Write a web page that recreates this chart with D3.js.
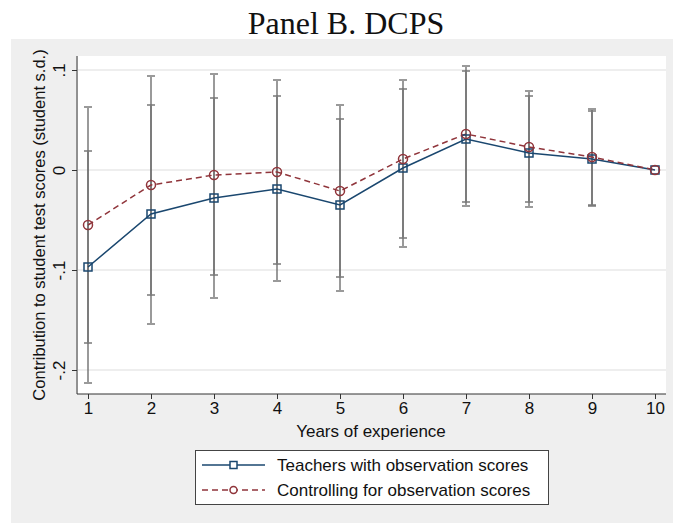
<!DOCTYPE html>
<html>
<head>
<meta charset="utf-8">
<script src="https://cdn.jsdelivr.net/npm/d3@7"></script>
<style>
  body { margin: 0; background: #fff; }
  text { font-family: "Liberation Sans", Arial, Helvetica, sans-serif; fill: #111; }
</style>
</head>
<body>
<div class="chart"></div>
<script>
// years of experience
const years = [1, 2, 3, 4, 5, 6, 7, 8, 9, 10];

// Teachers with observation scores
const obsEst = [-0.097, -0.044, -0.028, -0.019, -0.035, 0.002, 0.031, 0.017, 0.011, 0];
const obsLo  = [-0.213, -0.154, -0.128, -0.111, -0.121, -0.077, -0.036, -0.037, -0.036, null];
const obsHi  = [0.019, 0.065, 0.072, 0.074, 0.051, 0.081, 0.099, 0.074, 0.059, null];

// Controlling for observation scores
const ctrlEst = [-0.055, -0.015, -0.005, -0.002, -0.021, 0.011, 0.036, 0.023, 0.013, 0];
const ctrlLo  = [-0.173, -0.125, -0.105, -0.094, -0.107, -0.068, -0.032, -0.032, -0.035, null];
const ctrlHi  = [0.063, 0.094, 0.096, 0.090, 0.065, 0.090, 0.104, 0.079, 0.061, null];

const yTicks = [-0.2, -0.1, 0, 0.1];
const yTickLabels = ["-.2", "-.1", "0", ".1"];

const W = 673, H = 523;
const plot = { left: 78, right: 666, top: 56, bottom: 394 };
const blue = "#1a476f", red = "#90353b";
const fs = "17px";

const svg = d3.select(".chart").append("svg")
  .attr("width", W).attr("height", H);

// background panels
svg.append("rect").attr("x", 11).attr("y", 39).attr("width", W - 11).attr("height", H - 39)
  .attr("fill", "#efefef");
svg.append("rect").attr("x", plot.left).attr("y", plot.top)
  .attr("width", plot.right - plot.left).attr("height", plot.bottom - plot.top)
  .attr("fill", "#fff");

// title
svg.append("text").attr("x", 346).attr("y", 34).attr("text-anchor", "middle")
  .style("font-family", "'Liberation Serif', 'Times New Roman', serif")
  .style("font-size", "32px").text("Panel B. DCPS");

const x = d3.scaleLinear().domain([1, 10]).range([88, 655]);
const y = d3.scaleLinear().domain([-0.2, 0.1]).range([370, 70]);

// gridlines
svg.append("g").selectAll("line").data(yTicks).join("line")
  .attr("x1", plot.left).attr("x2", plot.right)
  .attr("y1", d => y(d)).attr("y2", d => y(d))
  .attr("stroke", "#e8e8e8").attr("stroke-width", 1.5);

// axes
const yAxis = svg.append("g").attr("transform", `translate(${plot.left - 1},0)`)
  .call(d3.axisLeft(y).tickValues(yTicks).tickSize(5).tickFormat((d, i) => yTickLabels[i]));
yAxis.select(".domain").attr("d", `M0,${plot.top}V${plot.bottom}`).attr("stroke", "#333");
yAxis.selectAll(".tick line").attr("stroke", "#333");
yAxis.selectAll(".tick text")
  .attr("transform", "rotate(-90)").attr("x", 0).attr("y", -12)
  .attr("dy", "0").attr("text-anchor", "middle")
  .style("font-size", fs);

const xAxis = svg.append("g").attr("transform", `translate(0,${plot.bottom})`)
  .call(d3.axisBottom(x).tickValues(years).tickSize(5).tickFormat(d3.format("d")));
xAxis.select(".domain").attr("d", `M${plot.left - 1},0H${plot.right}`).attr("stroke", "#333");
xAxis.selectAll(".tick line").attr("stroke", "#333");
xAxis.selectAll(".tick text").attr("y", 8).style("font-size", fs);
svg.selectAll(".tick text").style("fill", "#111").style("font-family", "'Liberation Sans', Arial, sans-serif");

// axis titles
svg.append("text").attr("x", 371).attr("y", 437).attr("text-anchor", "middle")
  .style("font-size", fs).text("Years of experience");
svg.append("text").attr("transform", `translate(45,${(plot.top + plot.bottom) / 2}) rotate(-90)`)
  .attr("text-anchor", "middle").style("font-size", "16.5px")
  .text("Contribution to student test scores (student s.d.)");

// confidence intervals
const ciGroups = [
  years.map((yr, i) => ({ yr, lo: obsLo[i], hi: obsHi[i] })),
  years.map((yr, i) => ({ yr, lo: ctrlLo[i], hi: ctrlHi[i] }))
];
ciGroups.forEach(ci => {
  const g = svg.append("g").attr("stroke", "#707070").attr("stroke-width", 2).attr("opacity", 0.7);
  const rows = ci.filter(d => d.lo !== null);
  g.selectAll(".v").data(rows).join("line")
    .attr("x1", d => x(d.yr)).attr("x2", d => x(d.yr))
    .attr("y1", d => y(d.lo)).attr("y2", d => y(d.hi));
  g.selectAll(".cl").data(rows).join("line").attr("class", "cl")
    .attr("x1", d => x(d.yr) - 4).attr("x2", d => x(d.yr) + 4)
    .attr("y1", d => y(d.lo)).attr("y2", d => y(d.lo));
  g.selectAll(".ch").data(rows).join("line").attr("class", "ch")
    .attr("x1", d => x(d.yr) - 4).attr("x2", d => x(d.yr) + 4)
    .attr("y1", d => y(d.hi)).attr("y2", d => y(d.hi));
});

const line = d3.line().x(d => x(d[0])).y(d => y(d[1]));

// series lines
svg.append("path").datum(years.map((yr, i) => [yr, obsEst[i]]))
  .attr("d", line).attr("fill", "none").attr("stroke", blue).attr("stroke-width", 1.5);
svg.append("path").datum(years.map((yr, i) => [yr, ctrlEst[i]]))
  .attr("d", line).attr("fill", "none").attr("stroke", red).attr("stroke-width", 1.5)
  .attr("stroke-dasharray", "6,4");

// markers
svg.append("g").selectAll("rect").data(years.map((yr, i) => [yr, obsEst[i]])).join("rect")
  .attr("x", d => x(d[0]) - 4).attr("y", d => y(d[1]) - 4)
  .attr("width", 8).attr("height", 8)
  .attr("fill", "none").attr("stroke", blue).attr("stroke-width", 1.5);
svg.append("g").selectAll("circle").data(years.map((yr, i) => [yr, ctrlEst[i]])).join("circle")
  .attr("cx", d => x(d[0])).attr("cy", d => y(d[1])).attr("r", 4.5)
  .attr("fill", "none").attr("stroke", red).attr("stroke-width", 1.5);

// legend
const lg = svg.append("g");
lg.append("rect").attr("x", 195.5).attr("y", 450.5).attr("width", 353).attr("height", 54)
  .attr("fill", "#fff").attr("stroke", "#444").attr("stroke-width", 1);
const items = [
  { label: "Teachers with observation scores", color: blue, dash: null, shape: "square", y: 465 },
  { label: "Controlling for observation scores", color: red, dash: "6,4", shape: "circle", y: 490 }
];
items.forEach(it => {
  lg.append("line").attr("x1", 202).attr("x2", 265).attr("y1", it.y).attr("y2", it.y)
    .attr("stroke", it.color).attr("stroke-width", 1.5)
    .attr("stroke-dasharray", it.dash);
  if (it.shape === "square") {
    lg.append("rect").attr("x", 230).attr("y", it.y - 3.5).attr("width", 7).attr("height", 7)
      .attr("fill", "#fff").attr("stroke", it.color).attr("stroke-width", 1.5);
  } else {
    lg.append("circle").attr("cx", 233.5).attr("cy", it.y).attr("r", 3.5)
      .attr("fill", "#fff").attr("stroke", it.color).attr("stroke-width", 1.5);
  }
  lg.append("text").attr("x", 277).attr("y", it.y + 6).style("font-size", fs).text(it.label);
});
</script>
</body>
</html>
